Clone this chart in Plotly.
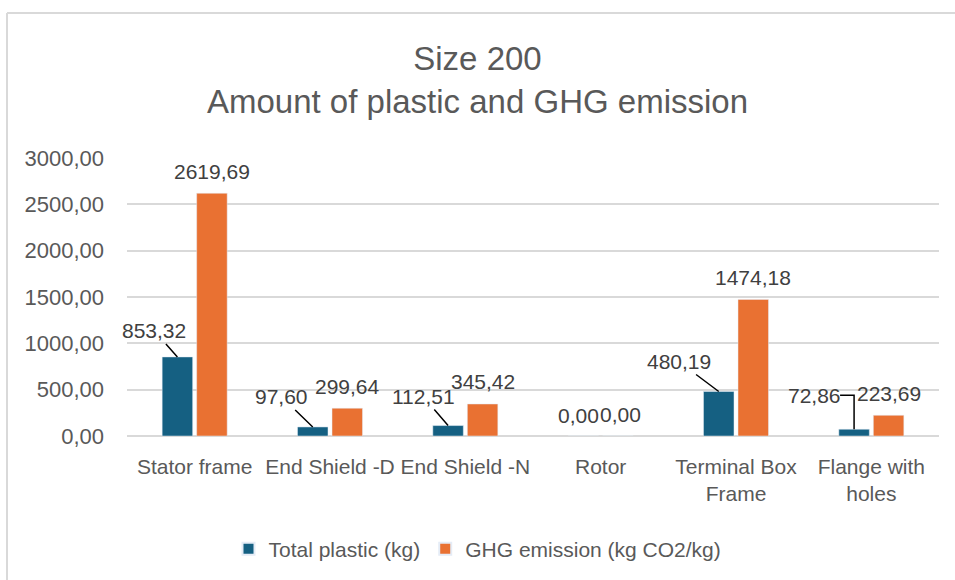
import plotly.graph_objects as go

# Components and measured quantities
categories = ["Stator frame", "End Shield -D", "End Shield -N", "Rotor",
              "Terminal Box<br>Frame", "Flange with<br>holes"]
total_plastic = [853.32, 97.60, 112.51, 0.00, 480.19, 72.86]
ghg_emission = [2619.69, 299.64, 345.42, 0.00, 1474.18, 223.69]
y_ticks = [0, 500, 1000, 1500, 2000, 2500, 3000]

# Pixel offsets (text centre relative to bar top) for the plastic labels
plastic_label_offsets = [(-23, -26), (-31, -30), (-25, -29), (-5, -21), (-40, -30), (-40, -34)]

BLUE = "#156082"
ORANGE = "#E97132"
GRID = "#D9D9D9"
TEXT = "#595959"
LABEL = "#404040"
FONT = "Liberation Sans, Arial, sans-serif"

W, H = 955, 580
L, R, T, B = 127, 16, 158, 144
plot_w = W - L - R
plot_h = H - T - B

BARGAP = 0.49
half_off = (1 - BARGAP) / 4  # offset of each bar centre from its category centre


def fmt(v):
    return f"{v:.2f}".replace(".", ",")


label_font = dict(size=21, color=LABEL, family=FONT)

fig = go.Figure()
fig.add_trace(go.Bar(name="Total plastic (kg)", x=list(range(len(categories))),
                     y=total_plastic, marker_color=BLUE))
fig.add_trace(go.Bar(name="GHG emission (kg CO2/kg)", x=list(range(len(categories))),
                     y=ghg_emission, marker_color=ORANGE))

annotations = []
shapes = []
for i, (p, g) in enumerate(zip(total_plastic, ghg_emission)):
    ax, ay = plastic_label_offsets[i]
    xb = i - half_off
    if p == 0:
        annotations.append(dict(x=xb, y=p, text=fmt(p), showarrow=False,
                                xshift=ax, yshift=-ay, font=label_font))
    elif i == len(categories) - 1:
        # elbow leader line
        annotations.append(dict(x=xb, y=p, text=fmt(p), showarrow=False,
                                xshift=ax, yshift=-ay, font=label_font))
        shapes.append(dict(type="path", xref="x", yref="y", xsizemode="pixel", ysizemode="pixel",
                           xanchor=xb, yanchor=p, path=f"M {ax + 26},{-ay} L 0,{-ay} L 0,0",
                           line=dict(color="black", width=1.5)))
    else:
        annotations.append(dict(x=xb, y=p, text=fmt(p), showarrow=True, arrowhead=0,
                                arrowwidth=1.5, arrowcolor="black", ax=ax, ay=ay,
                                font=label_font))
    annotations.append(dict(x=i + half_off, y=g, text=fmt(g), showarrow=False, yshift=22,
                            xshift=3 if g == 0 else 0, font=label_font))

# Chart-area border (top and left edges)
x_left = (7 - L) / plot_w
y_top = (H - B - 13) / plot_h
shapes.append(dict(type="line", xref="paper", yref="paper", x0=x_left, x1=(W - L + 5) / plot_w,
                   y0=y_top, y1=y_top, line=dict(color=GRID, width=2)))
shapes.append(dict(type="line", xref="paper", yref="paper", x0=x_left, x1=x_left,
                   y0=y_top, y1=-(B + 5) / plot_h, line=dict(color=GRID, width=2)))

fig.update_layout(
    width=W, height=H,
    margin=dict(l=L, r=R, t=T, b=B),
    paper_bgcolor="white", plot_bgcolor="white",
    separators=",.",
    barmode="group", bargap=BARGAP, bargroupgap=0.116,
    title=dict(text="Size 200<br>Amount of plastic and GHG emission",
               x=0.5, xref="container", xanchor="center",
               y=1 - 70 / H, yref="container", yanchor="middle",
               font=dict(size=33, color=TEXT, family=FONT)),
    xaxis=dict(tickmode="array", tickvals=list(range(len(categories))), ticktext=categories,
               range=[-0.5, len(categories) - 0.5], showgrid=False, showline=False,
               ticks="", ticklabelstandoff=16,
               tickfont=dict(size=21, color=TEXT, family=FONT)),
    yaxis=dict(range=[0, 3000], tickvals=y_ticks, tickformat=".2f",
               showgrid=True, gridcolor=GRID, gridwidth=2, zeroline=True,
               zerolinecolor=GRID, zerolinewidth=2, showline=False, ticks="",
               ticklabelstandoff=22,
               tickfont=dict(size=22, color=TEXT, family=FONT)),
    legend=dict(orientation="h", xref="container", yref="container", x=0.5, xanchor="center",
                y=1 - 549 / H, yanchor="middle", font=dict(size=21, color=TEXT, family=FONT),
                itemsizing="constant", traceorder="normal"),
    annotations=annotations,
    shapes=shapes,
)

fig.write_html("out.html")
